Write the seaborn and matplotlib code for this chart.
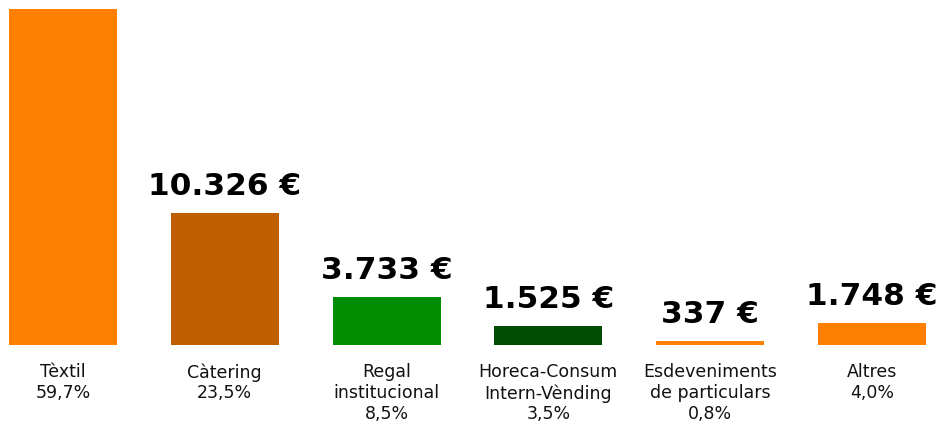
import matplotlib
matplotlib.use("Agg")
import matplotlib.pyplot as plt
import seaborn as sns
import pandas as pd

categories = ["Tèxtil", "Càtering", "Regal\ninstitucional", "Horeca-Consum\nIntern-Vènding",
              "Esdeveniments\nde particulars", "Altres"]
percentages = ["59,7%", "23,5%", "8,5%", "3,5%", "0,8%", "4,0%"]
values = [26280, 10326, 3733, 1525, 337, 1748]
value_labels = ["26.280 €", "10.326 €", "3.733 €", "1.525 €", "337 €", "1.748 €"]
colors = ["#FF8000", "#BF5F00", "#008C00", "#004C00", "#FF8000", "#FF8000"]

sns.set_theme(style="white")
plt.rcParams["font.family"] = ["DejaVu Sans"]

df = pd.DataFrame({"cat": categories, "val": values})

fig = plt.figure(figsize=(9.43, 4.26), dpi=100)
ax = fig.add_axes([0, 0.19, 1, 0.81])
sns.barplot(data=df, x="cat", y="val", hue="cat", palette=colors, legend=False,
            width=0.667, saturation=1, linewidth=0, ax=ax)
ax.set_xlim(-0.389, 5.439)
ymax = 26990
ax.set_ylim(0, ymax)
for s in ax.spines.values():
    s.set_visible(False)
ax.set_yticks([])
ax.set_xlabel("")
ax.set_ylabel("")
ax.set_xticks(range(len(categories)))
ax.set_xticklabels([f"{c}\n{p}" for c, p in zip(categories, percentages)],
                   fontsize=12.5, color="#111111", linespacing=1.2)
ax.tick_params(axis="x", length=0, pad=13)

# value labels: the one of the tallest bar falls outside the plot area (not visible)
for i, (v, lab) in enumerate(zip(values, value_labels)):
    if v > 0.8 * ymax:
        continue
    ax.annotate(lab, xy=(i, v), xytext=(0, 13), textcoords="offset points",
                ha="center", va="baseline", fontsize=22.5, fontweight="bold",
                color="black")

fig.savefig("out.png", dpi=100)
